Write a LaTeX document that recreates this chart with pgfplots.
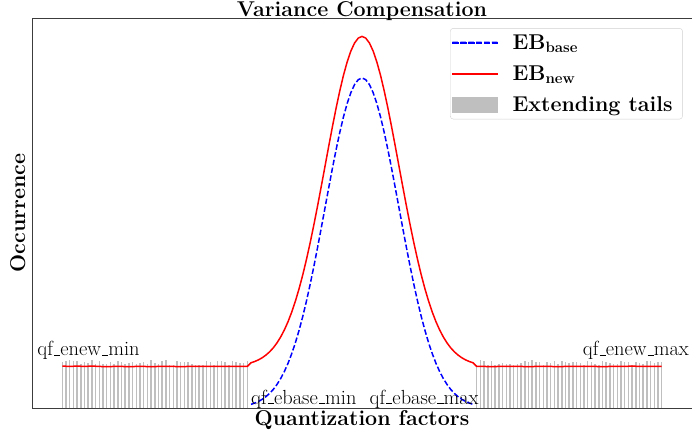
\documentclass[border=0pt]{standalone}
\usepackage{pgfplots}
\pgfplotsset{compat=1.18}

\definecolor{tailgray}{RGB}{191,191,191}
\definecolor{spine}{RGB}{60,60,60}
\definecolor{ebblue}{RGB}{0,0,255}
\definecolor{ebred}{RGB}{255,0,0}
\definecolor{legblue}{RGB}{0,0,254}
\definecolor{legred}{RGB}{254,0,0}
\newcommand\bfbig{\fontsize{21.5}{25}\selectfont\bfseries}
\newcommand\annot{\fontsize{20.5}{23}\selectfont}
% short baseline underscore, as in the classic TeX fonts
\newcommand\us{\leavevmode\kern.06em\vbox{\hrule width.3em height 0.8pt}}

% Extending tails: one bar per quantization factor outside the base range
\pgfplotstableread{
x y
-8.1 0.138
-8.0 0.141
-7.9 0.144
-7.8 0.141
-7.7 0.143
-7.6 0.133
-7.5 0.138
-7.4 0.136
-7.3 0.145
-7.2 0.132
-7.1 0.141
-7.0 0.132
-6.9 0.133
-6.8 0.138
-6.7 0.133
-6.6 0.142
-6.5 0.138
-6.4 0.133
-6.3 0.135
-6.2 0.139
-6.1 0.132
-6.0 0.136
-5.9 0.139
-5.8 0.132
-5.7 0.144
-5.6 0.135
-5.5 0.133
-5.4 0.141
-5.3 0.145
-5.2 0.131
-5.1 0.130
-5.0 0.142
-4.9 0.139
-4.8 0.140
-4.7 0.138
-4.6 0.132
-4.5 0.131
-4.4 0.131
-4.3 0.130
-4.2 0.141
-4.1 0.140
-4.0 0.131
-3.9 0.141
-3.8 0.142
-3.7 0.138
-3.6 0.131
-3.5 0.141
-3.4 0.138
-3.3 0.136
-3.2 0.137
-3.1 0.143
3.1 0.131
3.2 0.144
3.3 0.141
3.4 0.131
3.5 0.142
3.6 0.131
3.7 0.133
3.8 0.135
3.9 0.132
4.0 0.133
4.1 0.131
4.2 0.132
4.3 0.137
4.4 0.142
4.5 0.139
4.6 0.144
4.7 0.139
4.8 0.140
4.9 0.131
5.0 0.139
5.1 0.137
5.2 0.143
5.3 0.133
5.4 0.141
5.5 0.138
5.6 0.136
5.7 0.139
5.8 0.140
5.9 0.136
6.0 0.131
6.1 0.142
6.2 0.139
6.3 0.133
6.4 0.131
6.5 0.142
6.6 0.140
6.7 0.136
6.8 0.132
6.9 0.133
7.0 0.143
7.1 0.139
7.2 0.138
7.3 0.131
7.4 0.140
7.5 0.137
7.6 0.133
7.7 0.143
7.8 0.141
7.9 0.135
8.0 0.138
8.1 0.140
}\tails

% Base error bound distribution
\pgfplotstableread{
x y
-3.0 0.0111
-2.9 0.0149
-2.8 0.0198
-2.7 0.0261
-2.6 0.0341
-2.5 0.0439
-2.4 0.0561
-2.3 0.0710
-2.2 0.0889
-2.1 0.1103
-2.0 0.1353
-1.9 0.1645
-1.8 0.1979
-1.7 0.2358
-1.6 0.2780
-1.5 0.3247
-1.4 0.3753
-1.3 0.4296
-1.2 0.4868
-1.1 0.5461
-1.0 0.6065
-0.9 0.6670
-0.8 0.7262
-0.7 0.7827
-0.6 0.8353
-0.5 0.8825
-0.4 0.9231
-0.3 0.9560
-0.2 0.9802
-0.1 0.9950
0.0 1.0000
0.1 0.9950
0.2 0.9802
0.3 0.9560
0.4 0.9231
0.5 0.8825
0.6 0.8353
0.7 0.7827
0.8 0.7262
0.9 0.6670
1.0 0.6065
1.1 0.5461
1.2 0.4868
1.3 0.4296
1.4 0.3753
1.5 0.3247
1.6 0.2780
1.7 0.2358
1.8 0.1979
1.9 0.1645
2.0 0.1353
2.1 0.1103
2.2 0.0889
2.3 0.0710
2.4 0.0561
2.5 0.0439
2.6 0.0341
2.7 0.0261
2.8 0.0198
2.9 0.0149
3.0 0.0111
}\ebbase

% New error bound distribution, including the flat tails
\pgfplotstableread{
x y
-8.1 0.127
-7.9 0.126
-7.7 0.127
-7.5 0.126
-7.3 0.127
-7.1 0.126
-6.9 0.125
-6.7 0.126
-6.5 0.126
-6.3 0.125
-6.1 0.126
-5.9 0.126
-5.7 0.125
-5.5 0.126
-5.3 0.126
-5.1 0.126
-4.9 0.125
-4.7 0.126
-4.5 0.126
-4.3 0.126
-4.1 0.126
-3.9 0.126
-3.7 0.126
-3.5 0.126
-3.3 0.126
-3.1 0.126
-3.0 0.1371
-2.9 0.1409
-2.8 0.1458
-2.7 0.1521
-2.6 0.1601
-2.5 0.1699
-2.4 0.1821
-2.3 0.1970
-2.2 0.2149
-2.1 0.2363
-2.0 0.2613
-1.9 0.2905
-1.8 0.3239
-1.7 0.3618
-1.6 0.4040
-1.5 0.4507
-1.4 0.5013
-1.3 0.5556
-1.2 0.6128
-1.1 0.6721
-1.0 0.7325
-0.9 0.7930
-0.8 0.8522
-0.7 0.9087
-0.6 0.9613
-0.5 1.0085
-0.4 1.0491
-0.3 1.0820
-0.2 1.1062
-0.1 1.1210
0.0 1.1260
0.1 1.1210
0.2 1.1062
0.3 1.0820
0.4 1.0491
0.5 1.0085
0.6 0.9613
0.7 0.9087
0.8 0.8522
0.9 0.7930
1.0 0.7325
1.1 0.6721
1.2 0.6128
1.3 0.5556
1.4 0.5013
1.5 0.4507
1.6 0.4040
1.7 0.3618
1.8 0.3239
1.9 0.2905
2.0 0.2613
2.1 0.2363
2.2 0.2149
2.3 0.1970
2.4 0.1821
2.5 0.1699
2.6 0.1601
2.7 0.1521
2.8 0.1458
2.9 0.1409
3.0 0.1371
3.1 0.126
3.3 0.126
3.5 0.125
3.7 0.126
3.9 0.126
4.1 0.126
4.3 0.126
4.5 0.125
4.7 0.126
4.9 0.126
5.1 0.126
5.3 0.125
5.5 0.126
5.7 0.126
5.9 0.126
6.1 0.126
6.3 0.126
6.5 0.125
6.7 0.126
6.9 0.126
7.1 0.126
7.3 0.127
7.5 0.126
7.7 0.126
7.9 0.126
8.1 0.126
}\ebnew

\begin{document}
\begin{tikzpicture}
\useasboundingbox (-32bp,-25bp) rectangle (660bp,408bp);
\begin{axis}[
  scale only axis,
  width=660bp, height=390bp,
  xmin=-8.92, xmax=8.92, ymin=0, ymax=1.1818,
  xtick=\empty, ytick=\empty,
  axis line style={spine, line width=0.8bp},
  every axis title shift=0pt,
  title={Variance Compensation},
  title style={at={(axis description cs:0.5,1)}, anchor=base, yshift=1.5bp, inner sep=0pt, font=\bfbig},
  xlabel={Quantization factors},
  xlabel style={at={(axis description cs:0.5,0)}, anchor=north, yshift=-2bp, inner sep=0pt, font=\bfbig},
  ylabel={Occurrence},
  ylabel style={at={(axis description cs:0,0.5)}, anchor=base, yshift=7bp, inner sep=0pt, font=\bfbig},
  legend cell align=left,
  legend style={at={(axis description cs:0.986,0.974)}, anchor=north east,
    draw=black!18, rounded corners=3bp, fill=white, font=\bfbig,
    inner xsep=2bp, inner ysep=4bp, row sep=11bp, column sep=13bp,
    nodes={inner sep=2bp}},
]
\addplot[ycomb, tailgray, line width=1.5bp, mark=none, forget plot] table {\tails};
\addplot[ebblue, line width=1.5bp, dash pattern=on 5.5bp off 2.4bp, forget plot] table {\ebbase};
\addplot[ebred, line width=1.5bp, forget plot] table {\ebnew};

% legend samples: 45bp long, filled so that they keep their own colour
\addlegendimage{legend image code/.code={%
  \fill[sharp corners, legblue]
    (0bp,-0.7bp) rectangle (5.5bp,0.7bp)
    (7.9bp,-0.7bp) rectangle (13.4bp,0.7bp)
    (15.8bp,-0.7bp) rectangle (21.3bp,0.7bp)
    (23.7bp,-0.7bp) rectangle (29.2bp,0.7bp)
    (31.6bp,-0.7bp) rectangle (37.1bp,0.7bp)
    (39.5bp,-0.7bp) rectangle (45bp,0.7bp);}}
\addlegendentry{EB\textsubscript{base}}
\addlegendimage{legend image code/.code={\fill[sharp corners, legred] (0bp,-0.7bp) rectangle (45bp,0.7bp);}}
\addlegendentry{EB\textsubscript{new}}
\addlegendimage{legend image code/.code={\fill[sharp corners, tailgray] (0bp,-7.5bp) rectangle (45bp,7.5bp);}}
\addlegendentry{Extending tails\hspace*{6bp}}

\node[anchor=base west, font=\annot, inner sep=0pt] at (axis cs:-8.78,0.158) {qf\us enew\us min};
\node[anchor=base east, font=\annot, inner sep=0pt] at (axis cs:8.84,0.158) {qf\us enew\us max};
\node[anchor=base west, font=\annot, inner sep=0pt] at (axis cs:-3.0,0.012) {qf\us ebase\us min};
\node[anchor=base west, font=\annot, inner sep=0pt] at (axis cs:0.2,0.012) {qf\us ebase\us max};
\end{axis}
\end{tikzpicture}
\end{document}
